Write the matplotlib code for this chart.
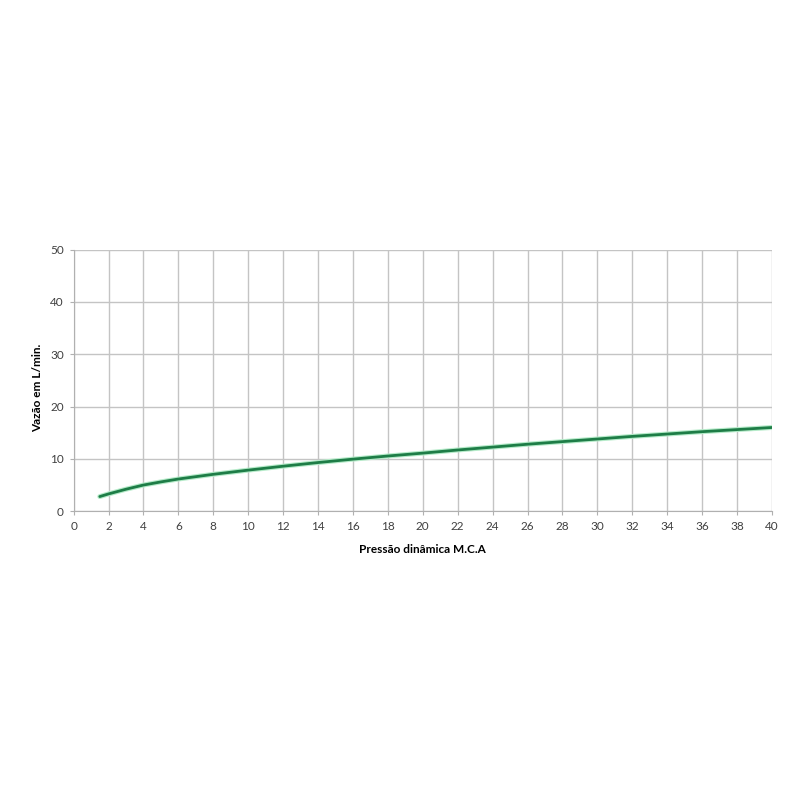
import matplotlib.pyplot as plt

plt.rcParams['font.family'] = ['Lato', 'DejaVu Sans']

# pressão dinâmica (m.c.a) x vazão (L/min)
pressao = [1.5, 2, 3, 4, 5, 6, 8, 10, 12, 14, 16, 18, 20, 22, 24, 26, 28, 30, 32, 34, 36, 38, 40]
vazao = [2.8, 3.3, 4.2, 5.0, 5.6, 6.15, 7.05, 7.85, 8.6, 9.3, 9.95, 10.55, 11.1, 11.7, 12.25, 12.8,
         13.3, 13.8, 14.3, 14.75, 15.2, 15.6, 16.0]

xticks = list(range(0, 41, 2))
yticks = list(range(0, 51, 10))

fig = plt.figure(figsize=(8, 8), dpi=100)
ax = fig.add_axes([0.092, 0.361, 0.873, 0.327])

ax.plot(pressao, vazao, color='#b5ebc9', linewidth=3.6, solid_capstyle='round', zorder=3)
ax.plot(pressao, vazao, color='#1e7d47', linewidth=2.0, solid_capstyle='round', zorder=4)

ax.set_xlim(0, 40)
ax.set_ylim(0, 50)
ax.set_xticks(xticks)
ax.set_yticks(yticks)
ax.grid(True, color='#c4c4c4', linewidth=1.0)
ax.set_axisbelow(True)
for side in ['top', 'right']:
    ax.spines[side].set_visible(False)
for side in ['left', 'bottom']:
    ax.spines[side].set_color('#b0b0b0')
ax.tick_params(axis='both', length=3, color='#b0b0b0', labelsize=8.5, labelcolor='#404040', pad=4)

ax.set_xlabel('Pressão dinâmica M.C.A', fontsize=8.5, fontweight='bold', labelpad=9)
ax.set_ylabel('Vazão em L/min.', fontsize=8.5, fontweight='bold')
ax.yaxis.set_label_coords(-0.044, 0.47)

fig.savefig('out.png', dpi=100, facecolor='white')
